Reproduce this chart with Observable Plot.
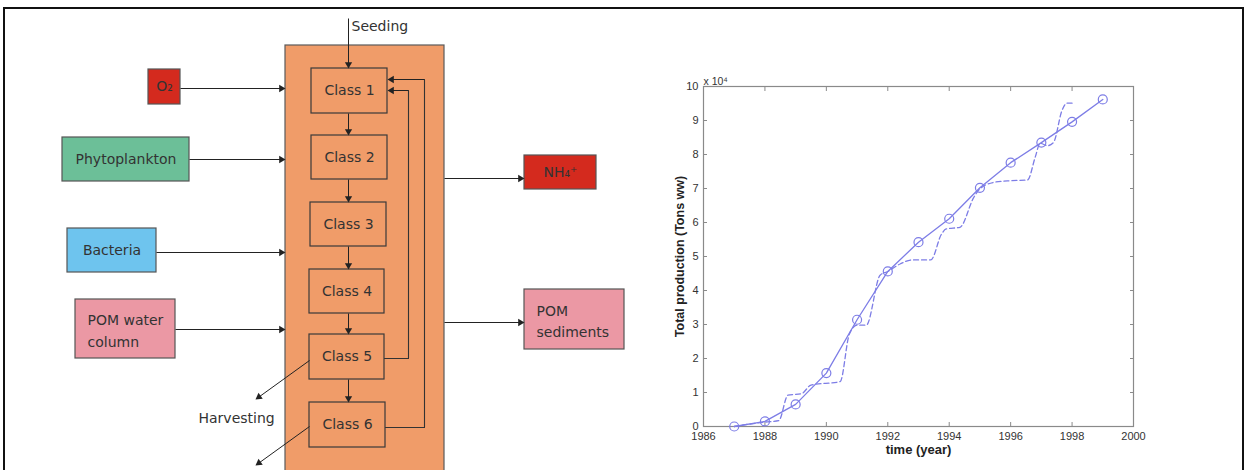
<!DOCTYPE html>
<html><head><meta charset="utf-8">
<script src="https://cdn.jsdelivr.net/npm/d3@7"></script>
<script src="https://cdn.jsdelivr.net/npm/@observablehq/plot@0.6"></script>
<style>
html,body{margin:0;padding:0;background:#fff;}
#wrap{position:relative;width:1247px;height:470px;overflow:hidden;background:#fff;}
#diagram,#chart{position:absolute;top:0;}
#diagram{left:0;}
#chart{left:640px;}
#border{position:absolute;left:3px;top:7px;width:1237px;height:480px;border:2px solid #111;pointer-events:none;}
</style></head><body>
<div id="wrap"><div id="diagram"></div><div id="chart"></div><div id="border"></div></div>
<script>
// ---------- chart data (production, x 10^4 tons ww) ----------
const years = [1987,1988,1989,1990,1991,1992,1993,1994,1995,1996,1997,1998,1999];
const production = [0.00,0.15,0.65,1.57,3.14,4.56,5.42,6.11,7.02,7.76,8.35,8.96,9.62];
const obsTime = [1987,1988,1988.45,1988.75,1989.2,1989.5,1990.45,1990.75,1991.0,1991.3,1991.75,1992.0,1992.4,1992.8,1993.4,1993.75,1993.9,1994.35,1994.8,1995.0,1995.45,1996.0,1996.55,1996.8,1996.96,1997.2,1997.4,1997.67,1997.83,1998.0];
const obsProduction = [0.0,0.13,0.17,0.92,0.97,1.22,1.32,2.72,2.98,2.98,4.45,4.56,4.78,4.9,4.9,5.66,5.81,5.86,6.74,6.99,7.18,7.23,7.25,7.92,8.33,8.26,8.36,9.29,9.51,9.51];
const xTicks = [1986,1988,1990,1992,1994,1996,1998,2000];
const yTicks = [0,1,2,3,4,5,6,7,8,9,10];

// ---------- diagram data ----------
const sourceLabels = ["O₂","Phytoplankton","Bacteria","POM water\ncolumn","NH₄⁺","POM\nsediments"];
const sourceFill = ["#d42a1e","#6cbf98","#6ec4ee","#eb98a4","#d42a1e","#eb98a4"];
const sourceX1 = [148,62,67,75,524,524];
const sourceX2 = [180,189,156,175,596,624];
const sourceY1 = [69,137,228,299,155,289];
const sourceY2 = [104,181,272,358,189,349];
const sourceAlign = ["middle","middle","middle","start","middle","start"];

const classLabels = ["Class 1","Class 2","Class 3","Class 4","Class 5","Class 6"];
const classX1 = [311,311,310,309,309,309];
const classX2 = [387,387,386,384,384,385];
const classY1 = [68,135,202,269,334,402];
const classY2 = [113,179,246,313,379,447];

const tankX = [285,444];
const tankY = [45,480];

// arrows: from (x1,y1) to (x2,y2)
const arrowX1 = [348,348,348,348,348,348,180,189,156,175,444,444,408,424,309,309];
const arrowY1 = [18,113,179,246,313,379,88,159,252,329,178,322,90,79,360,426];
const arrowX2 = [348,348,348,348,348,348,285,285,285,285,524,524,387,387,255,255];
const arrowY2 = [68,135,202,269,334,402,88,159,252,329,178,322,90,79,399,465];

const loopX = [[384,408,408],[385,424,424]];
const loopY = [[358,358,90],[427,427,79]];

const freeLabels = ["Seeding","Harvesting"];
const freeX = [351,198];
const freeY = [26,418];

// ---------- diagram ----------
const sources = sourceLabels.map((t,i)=>({t,fill:sourceFill[i],x1:sourceX1[i],x2:sourceX2[i],y1:sourceY1[i],y2:sourceY2[i],a:sourceAlign[i]}));
const classes = classLabels.map((t,i)=>({t,x1:classX1[i],x2:classX2[i],y1:classY1[i],y2:classY2[i]}));
const HEAD = 4.2; // centroid-to-tip distance of the filled head (diagram units)
const arrows = arrowX1.map((d,i)=>{
  const x1=d, y1=arrowY1[i], x2=arrowX2[i], y2=arrowY2[i];
  const L = Math.hypot(x2-x1, y2-y1), ux=(x2-x1)/L, uy=(y2-y1)/L;
  return {x1,y1,x2,y2,hx:x2-ux*HEAD,hy:y2-uy*HEAD,ang:Math.atan2(ux,-uy)*180/Math.PI};
});
const loops = loopX.flatMap((xs,k)=>xs.map((x,j)=>({k,x,y:loopY[k][j]})));
const frees = freeLabels.map((t,i)=>({t,x:freeX[i],y:freeY[i]}));
const FONT = "DejaVu Sans, sans-serif";
const INK = "#333";

const diagram = Plot.plot({
  width: 660, height: 470, margin: 0,
  x: {domain:[0,660], range:[0,660], axis:null},
  y: {domain:[0,470], range:[0,470], axis:null},
  style: {background:"transparent", fontFamily: FONT, fontSize:"14px", color: INK},
  marks: [
    Plot.rect([0], {x1:()=>tankX[0], x2:()=>tankX[1], y1:()=>tankY[0], y2:()=>tankY[1], fill:"#f09c69", stroke:"#5a5a5a", strokeWidth:1.2}),
    Plot.rect(sources, {x1:"x1",x2:"x2",y1:"y1",y2:"y2",fill:"fill",stroke:"#555",strokeWidth:1.2}),
    Plot.rect(classes, {x1:"x1",x2:"x2",y1:"y1",y2:"y2",fill:"none",stroke:"#3a3a3a",strokeWidth:1.2}),
    Plot.line(loops, {x:"x", y:"y", z:"k", stroke:"#333", strokeWidth:1.1, curve:"linear"}),
    Plot.link(arrows, {x1:"x1",y1:"y1",x2:"hx",y2:"hy", stroke:"#222", strokeWidth:1}),
    Plot.dot(arrows, {x:"hx", y:"hy", rotate:"ang", symbol:"triangle", r:2.7, fill:"#222", stroke:"none"}),
    Plot.text(classes, {x:d=>(d.x1+d.x2)/2, y:d=>(d.y1+d.y2)/2, text:"t", fill:INK, fontSize:14}),
    Plot.text(sources.filter(d=>d.a==="middle"), {x:d=>(d.x1+d.x2)/2, y:d=>(d.y1+d.y2)/2, text:"t", fill:INK, fontSize:14}),
    Plot.text(sources.filter(d=>d.a==="start"), {x:d=>d.x1+12, y:d=>(d.y1+d.y2)/2, text:"t", textAnchor:"start", lineHeight:1.55, fill:INK, fontSize:14}),
    Plot.text(frees, {x:"x", y:"y", text:"t", textAnchor:"start", fill:INK, fontSize:14})
  ]
});
document.getElementById("diagram").appendChild(diagram);

// ---------- chart ----------
const sim = years.map((x,i)=>({x, y: production[i]}));
const obs = obsTime.map((x,i)=>({x, y: obsProduction[i]}));
const BLUE = "#7d7de6";
const AX = "#8a8a8a";
const chart = Plot.plot({
  width: 560, height: 470,
  marginLeft: 63, marginRight: 67, marginTop: 86, marginBottom: 44,
  x: {domain:[1986,2000], axis:null},
  y: {domain:[0,10], axis:null},
  style: {background:"transparent", fontFamily:"Liberation Sans, Arial, sans-serif", fontSize:"11px", color:"#333"},
  marks: [
    Plot.frame({stroke: AX, strokeWidth:1.2}),
    Plot.axisX(xTicks, {anchor:"bottom", tickSize:-4, tickFormat:()=>"", stroke:AX, label:null}),
    Plot.axisX(xTicks, {anchor:"top", tickSize:-4, tickFormat:()=>"", stroke:AX, label:null}),
    Plot.axisX(xTicks, {anchor:"bottom", tickSize:0, tickPadding:6, tickFormat:d=>String(d), fill:"#333", label:null}),
    Plot.axisY(yTicks, {anchor:"left", tickSize:-4, tickFormat:()=>"", stroke:AX, label:null}),
    Plot.axisY(yTicks, {anchor:"right", tickSize:-4, tickFormat:()=>"", stroke:AX, label:null}),
    Plot.axisY(yTicks, {anchor:"left", tickSize:0, tickPadding:5, tickFormat:d=>String(d), fill:"#333", label:null}),
    Plot.line(obs, {x:"x", y:"y", stroke:BLUE, strokeWidth:1.3, strokeDasharray:"5,3", curve:"monotone-x"}),
    Plot.line(sim, {x:"x", y:"y", stroke:BLUE, strokeWidth:1.3}),
    Plot.dot(sim, {x:"x", y:"y", r:4.5, stroke:BLUE, fill:"none", strokeWidth:1.2}),
    Plot.text(["x 10⁴"], {frameAnchor:"top-left", text:d=>d, textAnchor:"start", dy:-9, dx:0, fontSize:10.5, fill:"#333"}),
    Plot.text(["Total production (Tons ww)"], {frameAnchor:"left", text:d=>d, textAnchor:"middle", rotate:-90, dx:-24, fontSize:12.5, fontWeight:"bold", fill:"#222"}),
    Plot.text(["time (year)"], {frameAnchor:"bottom", text:d=>d, lineAnchor:"middle", dy:23, fontSize:13, fontWeight:"bold", fill:"#222"})
  ]
});
document.getElementById("chart").appendChild(chart);
</script>
</body></html>
